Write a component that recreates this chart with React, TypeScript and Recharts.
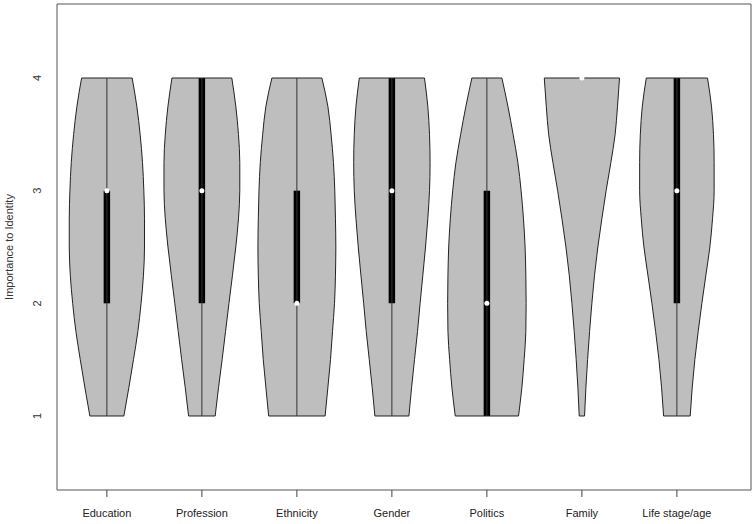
import React from "react";
import {
  ComposedChart, Area, XAxis, YAxis, ReferenceLine, ReferenceArea, ReferenceDot
} from "recharts";

const categories = ["Education", "Profession", "Ethnicity", "Gender", "Politics", "Family", "Life stage/age"];

// density levels along the value axis
const levels = [1, 1.25, 1.5, 1.75, 2, 2.25, 2.5, 2.75, 3, 3.25, 3.5, 3.75, 4];

// half width of each violin at the levels above (in category units)
const eduWidth = [0.179, 0.231, 0.28, 0.326, 0.36, 0.385, 0.396, 0.396, 0.389, 0.375, 0.35, 0.315, 0.266];
const profWidth = [0.14, 0.175, 0.213, 0.249, 0.285, 0.322, 0.357, 0.385, 0.399, 0.399, 0.385, 0.357, 0.315];
const ethWidth = [0.297, 0.326, 0.354, 0.375, 0.396, 0.406, 0.41, 0.406, 0.399, 0.385, 0.36, 0.326, 0.263];
const genderWidth = [0.179, 0.207, 0.238, 0.27, 0.297, 0.326, 0.354, 0.378, 0.396, 0.402, 0.396, 0.378, 0.343];
const polWidth = [0.333, 0.368, 0.392, 0.41, 0.413, 0.41, 0.402, 0.385, 0.36, 0.326, 0.276, 0.221, 0.158];
const famWidth = [0.028, 0.042, 0.06, 0.081, 0.105, 0.133, 0.168, 0.21, 0.255, 0.305, 0.35, 0.375, 0.396];
const lifeWidth = [0.14, 0.161, 0.189, 0.224, 0.263, 0.305, 0.347, 0.375, 0.392, 0.392, 0.385, 0.364, 0.322];
const widths = [eduWidth, profWidth, ethWidth, genderWidth, polWidth, famWidth, lifeWidth];

// box plot stats
const whiskerLow = [1, 1, 1, 1, 1, 4, 1];
const q1 = [2, 2, 2, 2, 1, 4, 2];
const median = [3, 3, 2, 3, 2, 4, 3];
const q3 = [3, 4, 3, 4, 3, 4, 4];
const whiskerHigh = [4, 4, 4, 4, 4, 4, 4];

const yTicks = [1, 2, 3, 4];
const xTicks = categories.map((_, i) => i + 1);

const X_DOMAIN: [number, number] = [0.475, 7.78];
const Y_DOMAIN: [number, number] = [0.343, 4.657];
const BOX_HALF = 0.034;

const rows = levels.map((v, j) => {
  const row: any = { v };
  widths.forEach((w, i) => {
    row["c" + i] = [i + 1 - w[j], i + 1 + w[j]];
  });
  return row;
});

const YTick = (props: any) => {
  const { x, y, payload } = props;
  return (
    <text x={x} y={y} transform={`rotate(-90, ${x}, ${y})`} textAnchor="middle" fontSize={11} fill="#333">
      {payload.value}
    </text>
  );
};

const YTitle = (props: any) => {
  const { viewBox } = props;
  const x = 13;
  const y = viewBox.y + viewBox.height / 2;
  return (
    <text x={x} y={y} transform={`rotate(-90, ${x}, ${y})`} textAnchor="middle" fontSize={11} fill="#333">
      Importance to Identity
    </text>
  );
};

export default function App() {
  return (
    <div style={{ position: "absolute", left: 0, top: 0, background: "#fff", fontFamily: "'Liberation Sans', Arial, sans-serif" }}>
      <ComposedChart
        width={756}
        height={524}
        data={rows}
        layout="vertical"
        margin={{ top: 4, right: 5, left: 0, bottom: 0 }}
      >
        <XAxis
          type="number"
          domain={X_DOMAIN}
          allowDataOverflow
          ticks={xTicks}
          interval={0}
          tickFormatter={(i: number) => categories[i - 1] ?? ""}
          axisLine={false}
          tickSize={7}
          tickMargin={12}
          height={34}
          tick={{ fontSize: 11, fill: "#222" }}
          tickLine={{ stroke: "#444" }}
        />
        <YAxis
          type="number"
          dataKey="v"
          domain={Y_DOMAIN}
          allowDataOverflow
          reversed
          ticks={yTicks}
          interval={0}
          axisLine={false}
          tickLine={false}
          tickSize={0}
          tickMargin={16}
          width={57}
          tick={<YTick />}
          label={{ content: (p: any) => <YTitle {...p} /> }}
        />
        {categories.map((_, i) => (
          <Area
            key={"v" + i}
            dataKey={"c" + i}
            type="monotone"
            fill="#bebebe"
            fillOpacity={1}
            stroke="#222"
            strokeWidth={1}
            dot={false}
            activeDot={false}
            isAnimationActive={false}
          />
        ))}
        {categories.map((_, i) => {
          const w = widths[i];
          return (
            <React.Fragment key={"e" + i}>
              <ReferenceLine
                segment={[{ x: i + 1 - w[0], y: levels[0] }, { x: i + 1 + w[0], y: levels[0] }]}
                stroke="#222"
              />
              <ReferenceLine
                segment={[
                  { x: i + 1 - w[w.length - 1], y: levels[levels.length - 1] },
                  { x: i + 1 + w[w.length - 1], y: levels[levels.length - 1] },
                ]}
                stroke="#222"
              />
            </React.Fragment>
          );
        })}
        {categories.map((_, i) =>
          whiskerHigh[i] > whiskerLow[i] ? (
            <ReferenceLine
              key={"w" + i}
              segment={[{ x: i + 1, y: whiskerLow[i] }, { x: i + 1, y: whiskerHigh[i] }]}
              stroke="#333"
            />
          ) : null
        )}
        {categories.map((_, i) =>
          q3[i] > q1[i] ? (
            <ReferenceArea
              key={"b" + i}
              x1={i + 1 - BOX_HALF}
              x2={i + 1 + BOX_HALF}
              y1={q1[i]}
              y2={q3[i]}
              fill="#000"
              fillOpacity={1}
              stroke="none"
            />
          ) : null
        )}
        {categories.map((_, i) => (
          <ReferenceDot key={"m" + i} x={i + 1} y={median[i]} r={2.5} fill="#fff" stroke="none" />
        ))}
        <ReferenceArea
          x1={X_DOMAIN[0]}
          x2={X_DOMAIN[1]}
          y1={Y_DOMAIN[0]}
          y2={Y_DOMAIN[1]}
          fill="none"
          stroke="#555"
        />
      </ComposedChart>
    </div>
  );
}
